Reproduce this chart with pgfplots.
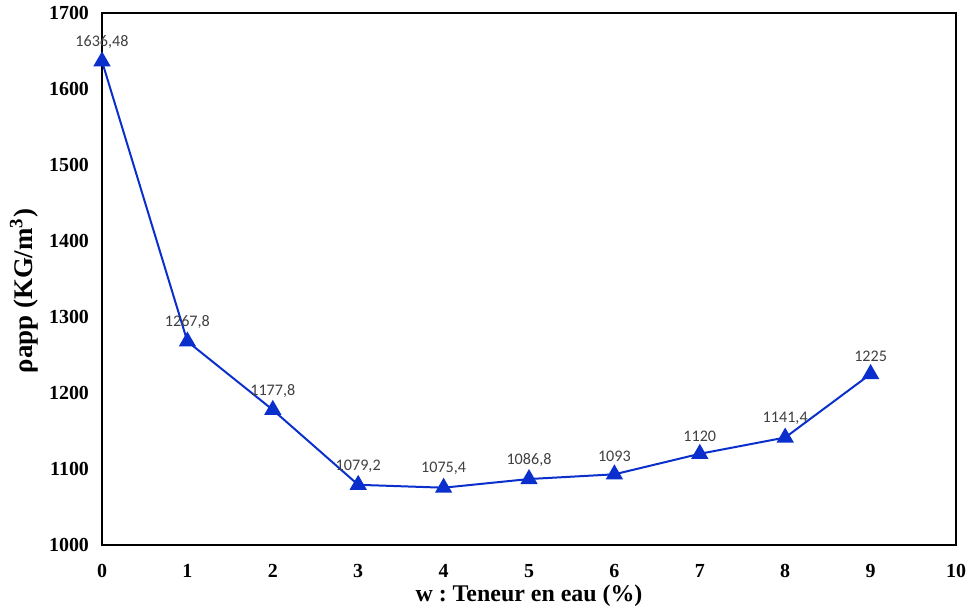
\documentclass[border=0pt]{standalone}
\usepackage{pgfplots}
\pgfplotsset{compat=1.18}
\usepackage{fontspec}
\setmainfont{Liberation Serif}
\newfontfamily\carlito{Carlito}
\definecolor{lineblue}{HTML}{0A2FCC}
\definecolor{lblgray}{HTML}{404040}
\frenchspacing
\begin{document}
\begin{tikzpicture}
\begin{axis}[
  scale only axis,
  width=427bp, height=266bp,
  xmin=0, xmax=10, ymin=1000, ymax=1700,
  xtick={0,1,...,10}, ytick={1000,1100,...,1700},
  major tick length=0pt,
  axis line style={line width=0.75bp, black},
  tick label style={font=\fontsize{10}{12}\selectfont\bfseries},
  /pgf/number format/assume math mode=true,
  /pgf/number format/1000 sep={},
  xticklabel style={yshift=-6bp},
  yticklabel style={xshift=-3bp},
  xlabel={w :\ Teneur en eau (\%)},
  ylabel={ρapp (KG/m\textsuperscript{3})},
  xlabel style={font=\fontsize{12}{14}\selectfont\bfseries, yshift=3bp},
  ylabel style={font=\fontsize{13.5}{16}\selectfont\bfseries, yshift=-1.5bp, xshift=-6bp},
  clip=false,
]
\addplot[color=lineblue, line width=1bp, mark=triangle*, mark size=4bp,
  mark options={fill=lineblue, draw=lineblue},
  nodes near coords, point meta=explicit symbolic,
  every node near coord/.style={font=\carlito\fontsize{8.1}{9.5}\selectfont, text=lblgray, yshift=2.5bp}]
  table[meta=lbl] {
x y lbl
0 1636.48 1636,48
1 1267.8 1267,8
2 1177.8 1177,8
3 1079.2 1079,2
4 1075.4 1075,4
5 1086.8 1086,8
6 1093 1093
7 1120 1120
8 1141.4 1141,4
9 1225 1225
};
\coordinate (ll) at (rel axis cs:0,0);
\coordinate (ur) at (rel axis cs:1,1);
\end{axis}
\pgfresetboundingbox
\path[use as bounding box] ([shift={(-51bp,-32.5bp)}]ll) rectangle ([shift={(7bp,6.5bp)}]ur);
\end{tikzpicture}
\end{document}
